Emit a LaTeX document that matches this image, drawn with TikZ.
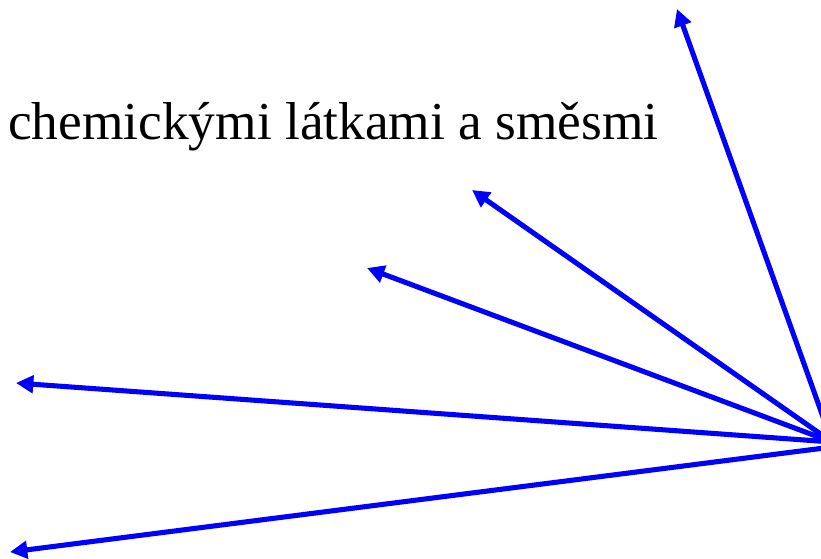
\documentclass[tikz,border=0pt]{standalone}
\usepackage{fontspec}
\setmainfont{Liberation Serif}
\usetikzlibrary{arrows.meta}
\begin{document}
\begin{tikzpicture}[x=0.75pt,y=-0.75pt,
  arr/.style={draw={rgb,255:red,0;green,0;blue,255}, line width=3.8pt,
    -{Triangle[length=13pt,width=13pt]}},
  lbl/.style={anchor=base west, inner sep=0pt, font=\fontsize{40pt}{46pt}\selectfont}]
\useasboundingbox (0,0) rectangle (821,558);
\clip (0,0) rectangle (821,558);
\coordinate (O) at (832,442);
\coordinate (O2) at (832,447);
\coordinate (t1) at (677,9);
\coordinate (t2) at (472,190);
\coordinate (t3) at (367,268);
\coordinate (t4) at (16,383);
\coordinate (t5) at (10,552);
\node[lbl] (txt) at (8,139) {chemickými látkami a směsmi};
\draw[arr] (O) -- (t1);
\draw[arr] (O) -- (t2);
\draw[arr] (O) -- (t3);
\draw[arr] (O) -- (t4);
\draw[arr] (O2) -- (t5);
\end{tikzpicture}
\end{document}
